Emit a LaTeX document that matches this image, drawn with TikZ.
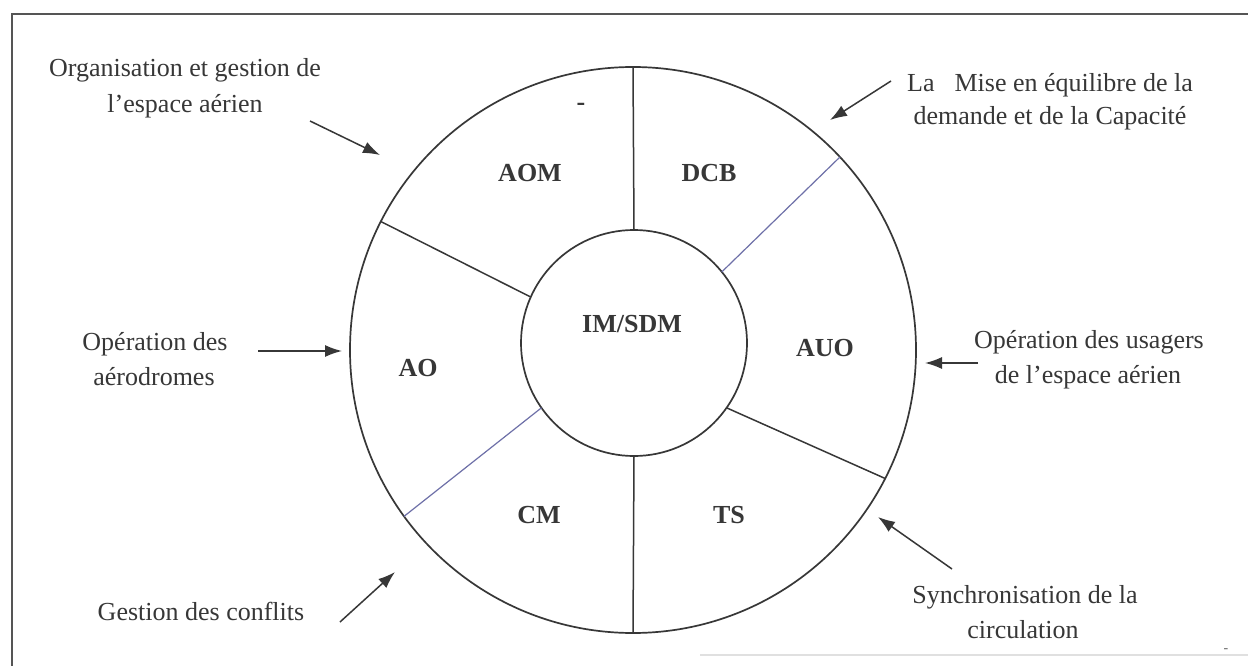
\documentclass[tikz,border=0pt]{standalone}
\usepackage{fontspec}
\setmainfont{Liberation Serif}
\usetikzlibrary{arrows.meta}
\definecolor{ink}{RGB}{55,55,55}
\definecolor{txt}{RGB}{55,55,55}
\definecolor{blueline}{RGB}{110,112,168}
\definecolor{frameclr}{RGB}{85,85,85}
\begin{document}
\begin{tikzpicture}[x=1pt,y=-1pt,
  ring/.style={circle,draw=ink,line width=1.7pt,inner sep=0pt,outer sep=0pt},
  divider/.style={draw=ink,line width=1.5pt},
  bluediv/.style={draw=blueline,line width=1.2pt},
  sector/.style={font=\fontsize{26}{30}\selectfont\bfseries,text=txt,inner sep=0pt,anchor=base},
  caption/.style={font=\fontsize{26}{30}\selectfont,text=txt,inner sep=0pt,anchor=base},
  pointer/.style={draw=ink,line width=1.5pt,-{Latex[length=17pt,width=12pt]}}
]
\useasboundingbox (0,0) rectangle (1248,666);
\fill[white] (0,0) rectangle (1248,666);
\draw[frameclr,line width=2.2pt] (12,666) -- (12,14) -- (1248,14);
\draw[black!12,line width=1.5pt] (700,655) -- (1248,655);

% circles
\node[ring,minimum size=566pt] (outer) at (633,350) {};
\node[ring,minimum size=226pt] (inner) at (634,343) {};

% dividers
\path[divider] (outer.90) -- (inner.90);
\path[divider] (inner.270) -- (outer.270);
\path[divider] (outer.153.8) -- (inner.156.7);
\path[divider] (outer.-27.9) -- (inner.-35.7);
\path[bluediv] (outer.43) -- (inner.39.7);
\path[bluediv] (outer.216.5) -- (inner.215.8);

% sector labels
\node[sector] (aom) at (530,182) {AOM};
\node[sector] (dcb) at (709,182) {DCB};
\node[sector] (imsdm) at (632,332) {IM/SDM};
\node[sector] (auo) at (825,356) {AUO};
\node[sector] (ao) at (418,376) {AO};
\node[sector] (cm) at (539,523) {CM};
\node[sector] (ts) at (729,523) {TS};
\node[sector] (dash) at (581,111) {-};

% captions
\node[caption] (c1a) at (185,77) {Organisation et gestion de};
\node[caption] (c1b) at (185,113) {l’espace aérien};
\node[caption] (c2a) at (1050,92) {La\hspace{20pt}Mise en équilibre de la};
\node[caption] (c2b) at (1050,125) {demande et de la Capacité};
\node[caption] (c3a) at (155,350) {Opération des};
\node[caption] (c3b) at (154,385) {aérodromes};
\node[caption] (c4a) at (1089,348) {Opération des usagers};
\node[caption] (c4b) at (1088,383) {de l’espace aérien};
\node[caption] (c5) at (201,620) {Gestion des conflits};
\node[caption] (c6a) at (1025,603) {Synchronisation de la};
\node[caption] (c6b) at (1023,638) {circulation};
\node[caption,font=\fontsize{14}{16}\selectfont,text=black!60] (mark) at (1226,652) {-};

% arrows
\coordinate (a1s) at (310,121); \coordinate (a1t) at (380,155);
\coordinate (a2s) at (891,81);  \coordinate (a2t) at (830,120);
\coordinate (a3s) at (258,351); \coordinate (a3t) at (342,351);
\coordinate (a4s) at (978,363); \coordinate (a4t) at (925,363);
\coordinate (a5s) at (340,622); \coordinate (a5t) at (395,572);
\coordinate (a6s) at (952,569); \coordinate (a6t) at (878,517);
\draw[pointer] (a1s) -- (a1t);
\draw[pointer] (a2s) -- (a2t);
\draw[pointer] (a3s) -- (a3t);
\draw[pointer] (a4s) -- (a4t);
\draw[pointer] (a5s) -- (a5t);
\draw[pointer] (a6s) -- (a6t);
\end{tikzpicture}
\end{document}
